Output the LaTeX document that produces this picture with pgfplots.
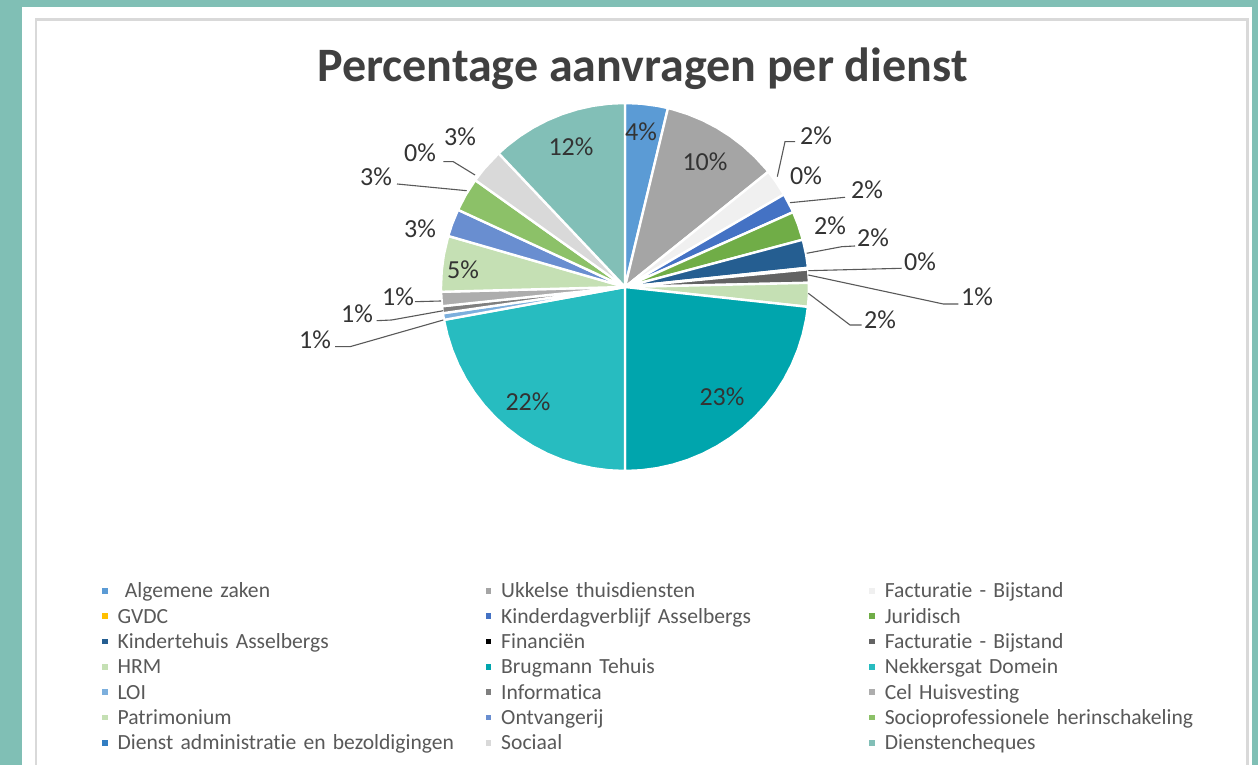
\documentclass[border=0pt]{standalone}
\usepackage{fontspec}
\setmainfont{Carlito}[Ligatures={NoCommon}]
\usepackage{pgfplots}
\pgfplotsset{compat=1.18}
\usepgfplotslibrary{polar}
\definecolor{bgteal}{HTML}{80BFB5}
\definecolor{framegray}{HTML}{D9D9D9}
\definecolor{titlegray}{HTML}{404040}
\definecolor{labgray}{HTML}{333333}
\definecolor{leggray}{HTML}{595959}
\definecolor{leadgray}{HTML}{595959}
\definecolor{cAlg}{HTML}{5B9BD5}
\definecolor{cUkk}{HTML}{A5A5A5}
\definecolor{cFact}{HTML}{F0F0F0}
\definecolor{cGVDC}{HTML}{FFC000}
\definecolor{cKdv}{HTML}{4472C4}
\definecolor{cJur}{HTML}{70AD47}
\definecolor{cKth}{HTML}{255E91}
\definecolor{cFin}{HTML}{000000}
\definecolor{cFactb}{HTML}{636363}
\definecolor{cHRM}{HTML}{C5E0B4}
\definecolor{cBrug}{HTML}{00A5AD}
\definecolor{cNek}{HTML}{27BCC0}
\definecolor{cLOI}{HTML}{7CAFDD}
\definecolor{cInfo}{HTML}{7F7F7F}
\definecolor{cCel}{HTML}{ADADAD}
\definecolor{cPatr}{HTML}{C5E0B4}
\definecolor{cOntv}{HTML}{698ED0}
\definecolor{cSocio}{HTML}{8CC168}
\definecolor{cDienst}{HTML}{327DC2}
\definecolor{cSoc}{HTML}{D9D9D9}
\definecolor{cDch}{HTML}{82BFB7}
\pgfplotsset{slice/.style={fill=#1, draw=white, line width=1.2pt, line join=round}}
\begin{document}
\begin{tikzpicture}
\clip (0,0) rectangle (629pt,382.5pt);
\fill[bgteal] (0,0) rectangle (629pt,382.5pt);
\fill[white] (11.15pt,-1pt) rectangle (625.85pt,379.15pt);
\draw[framegray, line width=1.25pt] (17.9pt,-5pt) -- (17.9pt,372.75pt) -- (623.75pt,372.75pt) -- (623.75pt,-5pt);
\begin{axis}[
  at={(0pt,0pt)}, anchor=south west,
  width=629pt, height=382.5pt, scale only axis,
  xmin=-625, xmax=633, ymin=-478, ymax=287,
  hide axis, clip=false, data cs=polar,
  legend columns=3,
  legend cell align=left,
  legend image code/.code={\fill[#1,draw=none] (0pt,-0.2pt) rectangle (2.8pt,2.6pt);},
  legend style={at={(0.08108,0.24118)}, anchor=north west, draw=none, fill=none,
    inner sep=0pt, outer sep=0pt, column sep=5pt, row sep=0pt,
    font=\fontsize{10.8}{12}\selectfont, text=leggray,
    nodes={inner sep=0pt, text width=179pt, text height=8.6pt, text depth=4.075pt, align=left}},
]
% shares in percent (angles = 3.6 deg per percent, clockwise from the top)
% Algemene zaken 3.75
\addplot[slice=cAlg] coordinates {(0,0) (90,184) (85,184) (80,184) (76.5,184)} -- cycle;
\addlegendentry{\ Algemene zaken}
% Ukkelse thuisdiensten 10.47
\addplot[slice=cUkk] coordinates {(0,0) (76.5,184) (75,184) (70,184) (65,184) (60,184) (55,184) (50,184) (45,184) (40,184) (38.8,184)} -- cycle;
\addlegendentry{Ukkelse thuisdiensten}
% Facturatie - Bijstand 2.39
\addplot[slice=cFact] coordinates {(0,0) (38.8,184) (35,184) (30.2,184)} -- cycle;
\addlegendentry{Facturatie - Bijstand}
% GVDC 0
\addlegendimage{fill=cGVDC}
\addlegendentry{GVDC}
% Kinderdagverblijf Asselbergs 1.72
\addplot[slice=cKdv] coordinates {(0,0) (30.2,184) (25,184) (24,184)} -- cycle;
\addlegendentry{Kinderdagverblijf Asselbergs}
% Juridisch 2.53
\addplot[slice=cJur] coordinates {(0,0) (24,184) (20,184) (14.9,184)} -- cycle;
\addlegendentry{Juridisch}
% Kindertehuis Asselbergs 2.47
\addplot[slice=cKth] coordinates {(0,0) (14.9,184) (10,184) (6,184)} -- cycle;
\addlegendentry{Kindertehuis Asselbergs}
% Financien 0.14
\addplot[slice=cFin] coordinates {(0,0) (6,184) (5.5,184)} -- cycle;
\addlegendentry{Financiën}
% Facturatie - Bijstand 1.17
\addplot[slice=cFactb] coordinates {(0,0) (5.5,184) (1.3,184)} -- cycle;
\addlegendentry{Facturatie - Bijstand}
% HRM 2.08
\addplot[slice=cHRM] coordinates {(0,0) (1.3,184) (-3,184) (-6.2,184)} -- cycle;
\addlegendentry{HRM}
% Brugmann Tehuis 23.28
\addplot[slice=cBrug] coordinates {(0,0) (-6.2,184) (-10,184) (-15,184) (-20,184) (-25,184) (-30,184) (-35,184) (-40,184) (-45,184) (-50,184) (-55,184) (-60,184) (-65,184) (-70,184) (-75,184) (-80,184) (-85,184) (-90,184)} -- cycle;
\addlegendentry{Brugmann Tehuis}
% Nekkersgat Domein 22.14
\addplot[slice=cNek] coordinates {(0,0) (-90,184) (-95,184) (-100,184) (-105,184) (-110,184) (-115,184) (-120,184) (-125,184) (-130,184) (-135,184) (-140,184) (-145,184) (-150,184) (-155,184) (-160,184) (-165,184) (-169.7,184)} -- cycle;
\addlegendentry{Nekkersgat Domein}
% LOI 0.58
\addplot[slice=cLOI] coordinates {(0,0) (-169.7,184) (-171.8,184)} -- cycle;
\addlegendentry{LOI}
% Informatica 0.61
\addplot[slice=cInfo] coordinates {(0,0) (-171.8,184) (-174,184)} -- cycle;
\addlegendentry{Informatica}
% Cel Huisvesting 1.25
\addplot[slice=cCel] coordinates {(0,0) (-174,184) (-178.5,184)} -- cycle;
\addlegendentry{Cel Huisvesting}
% Patrimonium 4.89
\addplot[slice=cPatr] coordinates {(0,0) (-178.5,184) (-180,184) (-185,184) (-190,184) (-196.1,184)} -- cycle;
\addlegendentry{Patrimonium}
% Ontvangerij 2.42
\addplot[slice=cOntv] coordinates {(0,0) (-196.1,184) (-200,184) (-204.8,184)} -- cycle;
\addlegendentry{Ontvangerij}
% Socioprofessionele herinschakeling 2.97
\addplot[slice=cSocio] coordinates {(0,0) (-204.8,184) (-210,184) (-215.5,184)} -- cycle;
\addlegendentry{Socioprofessionele herinschakeling}
% Dienst administratie en bezoldigingen 0
\addlegendimage{fill=cDienst}
\addlegendentry{Dienst administratie en bezoldigingen}
% Sociaal 3.08
\addplot[slice=cSoc] coordinates {(0,0) (-215.5,184) (-220,184) (-226.6,184)} -- cycle;
\addlegendentry{Sociaal}
% Dienstencheques 12.06
\addplot[slice=cDch] coordinates {(0,0) (-226.6,184) (-230,184) (-235,184) (-240,184) (-245,184) (-250,184) (-255,184) (-260,184) (-265,184) (-270,184)} -- cycle;
\addlegendentry{Dienstencheques}
% leader lines
\addplot[data cs=cart, draw=leadgray, line width=0.55pt, forget plot] coordinates {(152.3,110.3) (160,145.3) (170,145.3)};
\addplot[data cs=cart, draw=leadgray, line width=0.55pt, forget plot] coordinates {(165,84.3) (220,89.7)};
\addplot[data cs=cart, draw=leadgray, line width=0.55pt, forget plot] coordinates {(181.7,33.7) (216.7,40.3) (230,41)};
\addplot[data cs=cart, draw=leadgray, line width=0.55pt, forget plot] coordinates {(183.3,16.3) (276.7,18.7)};
\addplot[data cs=cart, draw=leadgray, line width=0.55pt, forget plot] coordinates {(183.3,12) (318.3,-17) (333.3,-17)};
\addplot[data cs=cart, draw=leadgray, line width=0.55pt, forget plot] coordinates {(183.3,-6.3) (225,-38) (236.7,-38)};
\addplot[data cs=cart, draw=leadgray, line width=0.55pt, forget plot] coordinates {(-150,112) (-171.7,125.3) (-181.7,125.3)};
\addplot[data cs=cart, draw=leadgray, line width=0.55pt, forget plot] coordinates {(-158.3,96.3) (-228,103)};
\addplot[data cs=cart, draw=leadgray, line width=0.55pt, forget plot] coordinates {(-210,-14.7) (-184,-14)};
\addplot[data cs=cart, draw=leadgray, line width=0.55pt, forget plot] coordinates {(-248.3,-33.7) (-233.3,-33) (-181.7,-23.7)};
\addplot[data cs=cart, draw=leadgray, line width=0.55pt, forget plot] coordinates {(-290,-59.7) (-275,-59.7) (-181.7,-33)};
\end{axis}
% title
\node[font=\bfseries\fontsize{24}{28}\selectfont, text=titlegray, anchor=base] at (321.25pt,341.5pt) {Percentage aanvragen per dienst};
% data labels
\begin{scope}[every node/.style={font=\fontsize{13}{15}\selectfont, text=labgray, inner sep=0pt, anchor=center}]
\node at (320.5pt,316.5pt) {4\%};
\node at (352.5pt,301.5pt) {10\%};
\node at (285.5pt,309pt) {12\%};
\node at (361pt,184pt) {23\%};
\node at (264pt,181.5pt) {22\%};
\node at (231.5pt,247.5pt) {5\%};
\node at (408pt,314.5pt) {2\%};
\node at (403pt,294.5pt) {0\%};
\node at (433.5pt,287.5pt) {2\%};
\node at (415pt,269.5pt) {2\%};
\node at (436.5pt,263.5pt) {2\%};
\node at (460pt,251.5pt) {0\%};
\node at (488.5pt,234pt) {1\%};
\node at (440pt,222.5pt) {2\%};
\node at (230pt,314pt) {3\%};
\node at (210pt,306pt) {0\%};
\node at (188pt,294pt) {3\%};
\node at (210pt,268pt) {3\%};
\node at (199pt,234pt) {1\%};
\node at (178.5pt,225.5pt) {1\%};
\node at (157.5pt,212.5pt) {1\%};
\end{scope}
\end{tikzpicture}
\end{document}
